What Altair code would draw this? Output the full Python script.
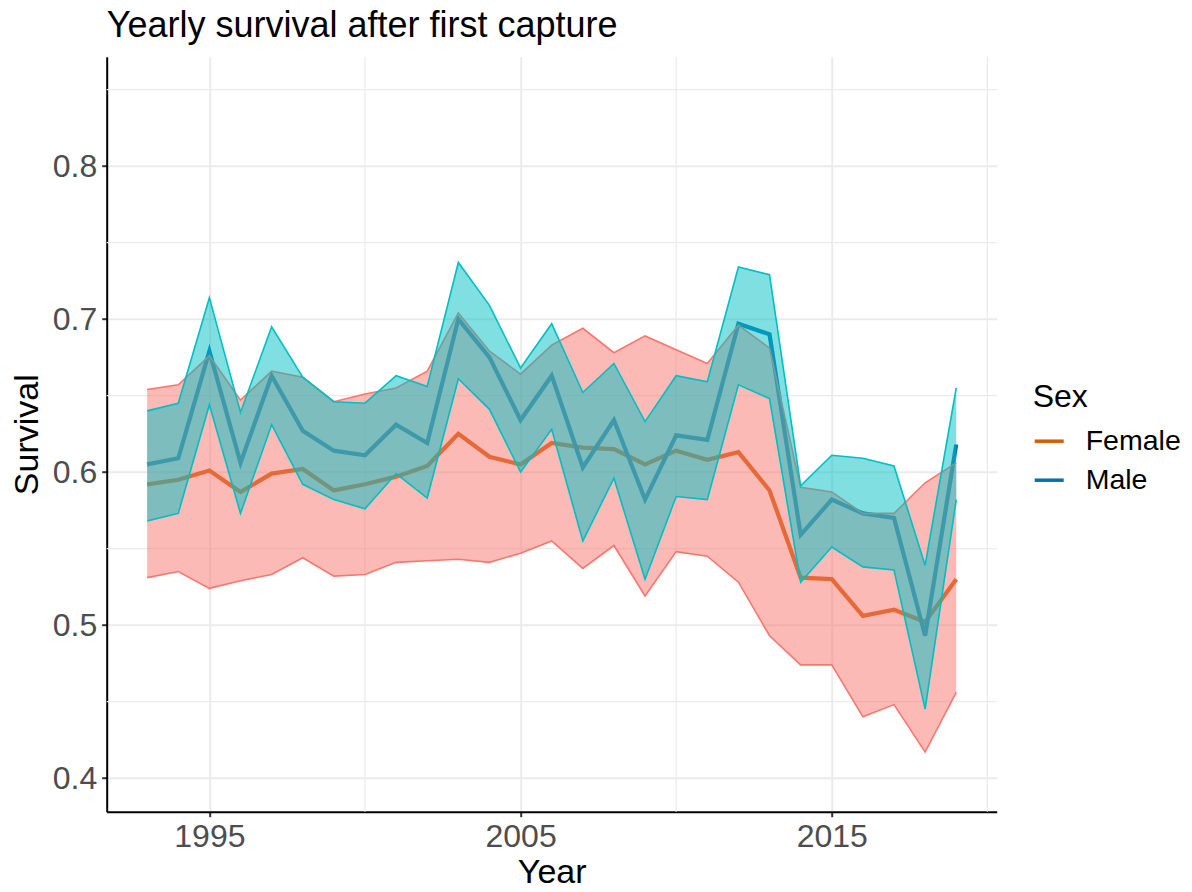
import altair as alt
import pandas as pd

years = list(range(1993, 2020))

f_mean = [0.592, 0.595, 0.601, 0.587, 0.599, 0.602, 0.588, 0.592, 0.597, 0.604,
          0.625, 0.610, 0.605, 0.619, 0.616, 0.615, 0.605, 0.614, 0.608, 0.613,
          0.588, 0.531, 0.530, 0.506, 0.510, 0.502, 0.530]
f_lo = [0.531, 0.535, 0.524, 0.529, 0.533, 0.544, 0.532, 0.533, 0.541, 0.542,
        0.543, 0.541, 0.547, 0.555, 0.537, 0.552, 0.519, 0.548, 0.545, 0.528,
        0.493, 0.474, 0.474, 0.440, 0.448, 0.417, 0.456]
f_hi = [0.654, 0.657, 0.676, 0.647, 0.666, 0.662, 0.646, 0.651, 0.655, 0.666,
        0.704, 0.679, 0.664, 0.683, 0.694, 0.678, 0.689, 0.680, 0.671, 0.696,
        0.681, 0.590, 0.587, 0.573, 0.573, 0.593, 0.606]

m_mean = [0.605, 0.609, 0.679, 0.606, 0.663, 0.627, 0.614, 0.611, 0.631, 0.619,
          0.700, 0.675, 0.634, 0.663, 0.603, 0.634, 0.582, 0.624, 0.621, 0.697,
          0.690, 0.559, 0.582, 0.573, 0.570, 0.493, 0.618]
m_lo = [0.568, 0.573, 0.644, 0.573, 0.631, 0.592, 0.582, 0.576, 0.599, 0.583,
        0.661, 0.641, 0.600, 0.628, 0.555, 0.596, 0.530, 0.584, 0.582, 0.657,
        0.648, 0.528, 0.551, 0.538, 0.536, 0.445, 0.582]
m_hi = [0.640, 0.645, 0.714, 0.639, 0.695, 0.662, 0.646, 0.645, 0.663, 0.656,
        0.737, 0.709, 0.668, 0.697, 0.652, 0.671, 0.633, 0.663, 0.659, 0.734,
        0.729, 0.591, 0.611, 0.609, 0.604, 0.539, 0.655]

sexes = ["Female", "Male"]
line_colors = ["#D55E00", "#0072B2"]
ribbon_colors = ["#F8766D", "#00BFC4"]

x_major = [1995, 2005, 2015]
x_minor = [2000, 2010, 2020]
y_major = [0.4, 0.5, 0.6, 0.7, 0.8]
y_minor = [0.45, 0.55, 0.65, 0.75, 0.85]

df = pd.concat([
    pd.DataFrame({"Year": years, "Sex": "Female", "mean": f_mean, "lo": f_lo, "hi": f_hi}),
    pd.DataFrame({"Year": years, "Sex": "Male", "mean": m_mean, "lo": m_lo, "hi": m_hi}),
], ignore_index=True)

FONT = "Liberation Sans"
xscale = alt.Scale(domain=[1991.7, 2020.3], nice=False, zero=False)
yscale = alt.Scale(domain=[0.378, 0.8715], nice=False, zero=False)

xaxis = alt.Axis(values=x_major, format="d", title="Year", labelBaseline="alphabetic",
                 labelPadding=30, titleBaseline="alphabetic", titleY=70.5)
yaxis = alt.Axis(values=y_major, format=".1f", title="Survival", labelPadding=5,
                 titleBaseline="alphabetic", titleX=-69, titleY=377.5, titleAngle=270)

def X(field="Year"):
    return alt.X(f"{field}:Q", scale=xscale, axis=xaxis)

def Y(field):
    return alt.Y(f"{field}:Q", scale=yscale, axis=yaxis)

minor_x = alt.Chart(pd.DataFrame({"v": x_minor})).mark_rule(
    color="#EBEBEB", strokeWidth=1.2).encode(x=alt.X("v:Q", scale=xscale, axis=xaxis))
minor_y = alt.Chart(pd.DataFrame({"v": y_minor})).mark_rule(
    color="#EBEBEB", strokeWidth=1.2).encode(y=alt.Y("v:Q", scale=yscale, axis=yaxis))

lines = alt.Chart(df).mark_line(strokeWidth=4.2).encode(
    x=X(), y=Y("mean"),
    color=alt.Color("Sex:N", scale=alt.Scale(domain=sexes, range=line_colors),
                    legend=alt.Legend(title="Sex")),
)

def ribbon(sex, col):
    base = alt.Chart(df).transform_filter(alt.datum.Sex == sex)
    area = base.mark_area(color=col, opacity=0.5).encode(
        x=X(), y=Y("lo"), y2="hi:Q")
    edges = base.transform_fold(["lo", "hi"], as_=["bound", "val"]).mark_line(
        color=col, strokeWidth=1.6).encode(x=X(), y=Y("val"), detail="bound:N")
    return [area, edges]

layers = [minor_x, minor_y, lines] + ribbon("Female", ribbon_colors[0]) + ribbon("Male", ribbon_colors[1])

chart = alt.layer(*layers).properties(
    width=890, height=755,
    title=alt.TitleParams("Yearly survival after first capture", anchor="start",
                          frame="group", font=FONT, fontSize=36, fontWeight="normal",
                          color="black", baseline="alphabetic", offset=19.7, dy=37),
    autosize=alt.AutoSizeParams(type="none"),
    padding={"left": 98.7, "top": 48.7, "right": 187.3, "bottom": 72.3},
).configure_view(stroke=None).configure_axis(
    domainColor="black", domainWidth=2, tickColor="#333333", tickWidth=2, tickSize=5,
    labelFont=FONT, labelFontSize=32, labelColor="#4D4D4D",
    titleFont=FONT, titleFontSize=34, titleColor="black", titleFontWeight="normal",
    gridColor="#EBEBEB", gridWidth=2,
).configure_legend(
    orient="none", legendX=926, legendY=325,
    titleFont=FONT, titleFontSize=32, titleFontWeight="normal", titleColor="black",
    titlePadding=11, labelFont=FONT, labelFontSize=28.5, labelColor="black",
    symbolType="stroke", symbolSize=841, symbolStrokeWidth=3.5, labelOffset=20,
    rowPadding=8,
)

chart.save("out.html", embed_options={"renderer": "svg", "actions": False})
